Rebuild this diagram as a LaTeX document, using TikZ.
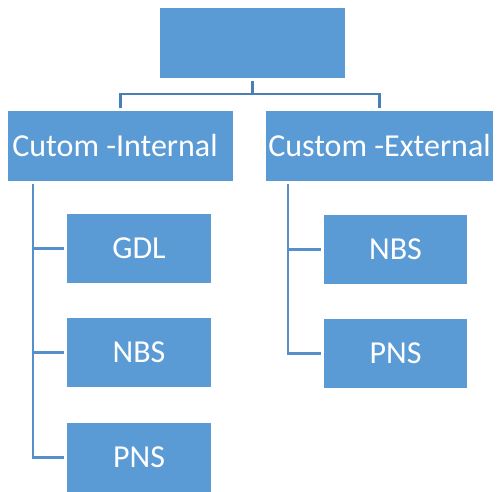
\documentclass[tikz,border=0pt]{standalone}
\usepackage{fontspec}
\setmainfont{Carlito}
\begin{document}
\begin{tikzpicture}[x=1pt,y=-1pt,
  box/.style={fill=boxblue,draw=none,text=white,font=\fontsize{32}{32}\selectfont,
    inner sep=0pt,minimum height=69.5pt},
  leaf/.style={box,minimum width=143.5pt},
  trunk/.style={draw=linkdark,line width=2.2pt},
  branch/.style={draw=linklight,line width=2.2pt}]
\definecolor{boxblue}{HTML}{5B9BD5}
\definecolor{linkdark}{HTML}{4A7EB6}
\definecolor{linklight}{HTML}{5690CC}
\useasboundingbox (0,0) rectangle (497,491);
% boxes
\node[box,minimum width=185pt] (top) at (252.5,42.75) {};
\node[box,minimum width=225pt] (intl) at (120.5,146) {\hspace*{-11pt}Cutom -Internal};
\node[box,minimum width=227pt] (extl) at (379.5,146) {Custom -External};
\node[leaf] (gdl)  at (139,248.5) {GDL};
\node[leaf] (nbsl) at (139,352.5) {NBS};
\node[leaf] (pnsl) at (139,457.5) {PNS};
\node[leaf] (nbsr) at (395.5,249.5) {NBS};
\node[leaf] (pnsr) at (395.5,353.5) {PNS};
% tree from the top box to the two groups
\coordinate (tB) at ([yshift=-16.5pt]top.south);
\draw[trunk] ([yshift=-3.5pt]top.south) -- (tB);
\draw[trunk] ([yshift=3pt]intl.north) |- (tB) -| ([yshift=3pt]extl.north);
% left group
\coordinate (iL) at ([xshift=25pt,yshift=-3pt]intl.south west);
\draw[branch] (iL) |- ([xshift=-3pt]pnsl.west);
\draw[branch] (iL |- gdl.west) -- ([xshift=-3pt]gdl.west);
\draw[branch] (iL |- nbsl.west) -- ([xshift=-3pt]nbsl.west);
% right group
\coordinate (eL) at ([xshift=22pt,yshift=-3pt]extl.south west);
\draw[branch] (eL) |- ([xshift=-3pt]pnsr.west);
\draw[branch] (eL |- nbsr.west) -- ([xshift=-3pt]nbsr.west);
\end{tikzpicture}
\end{document}
